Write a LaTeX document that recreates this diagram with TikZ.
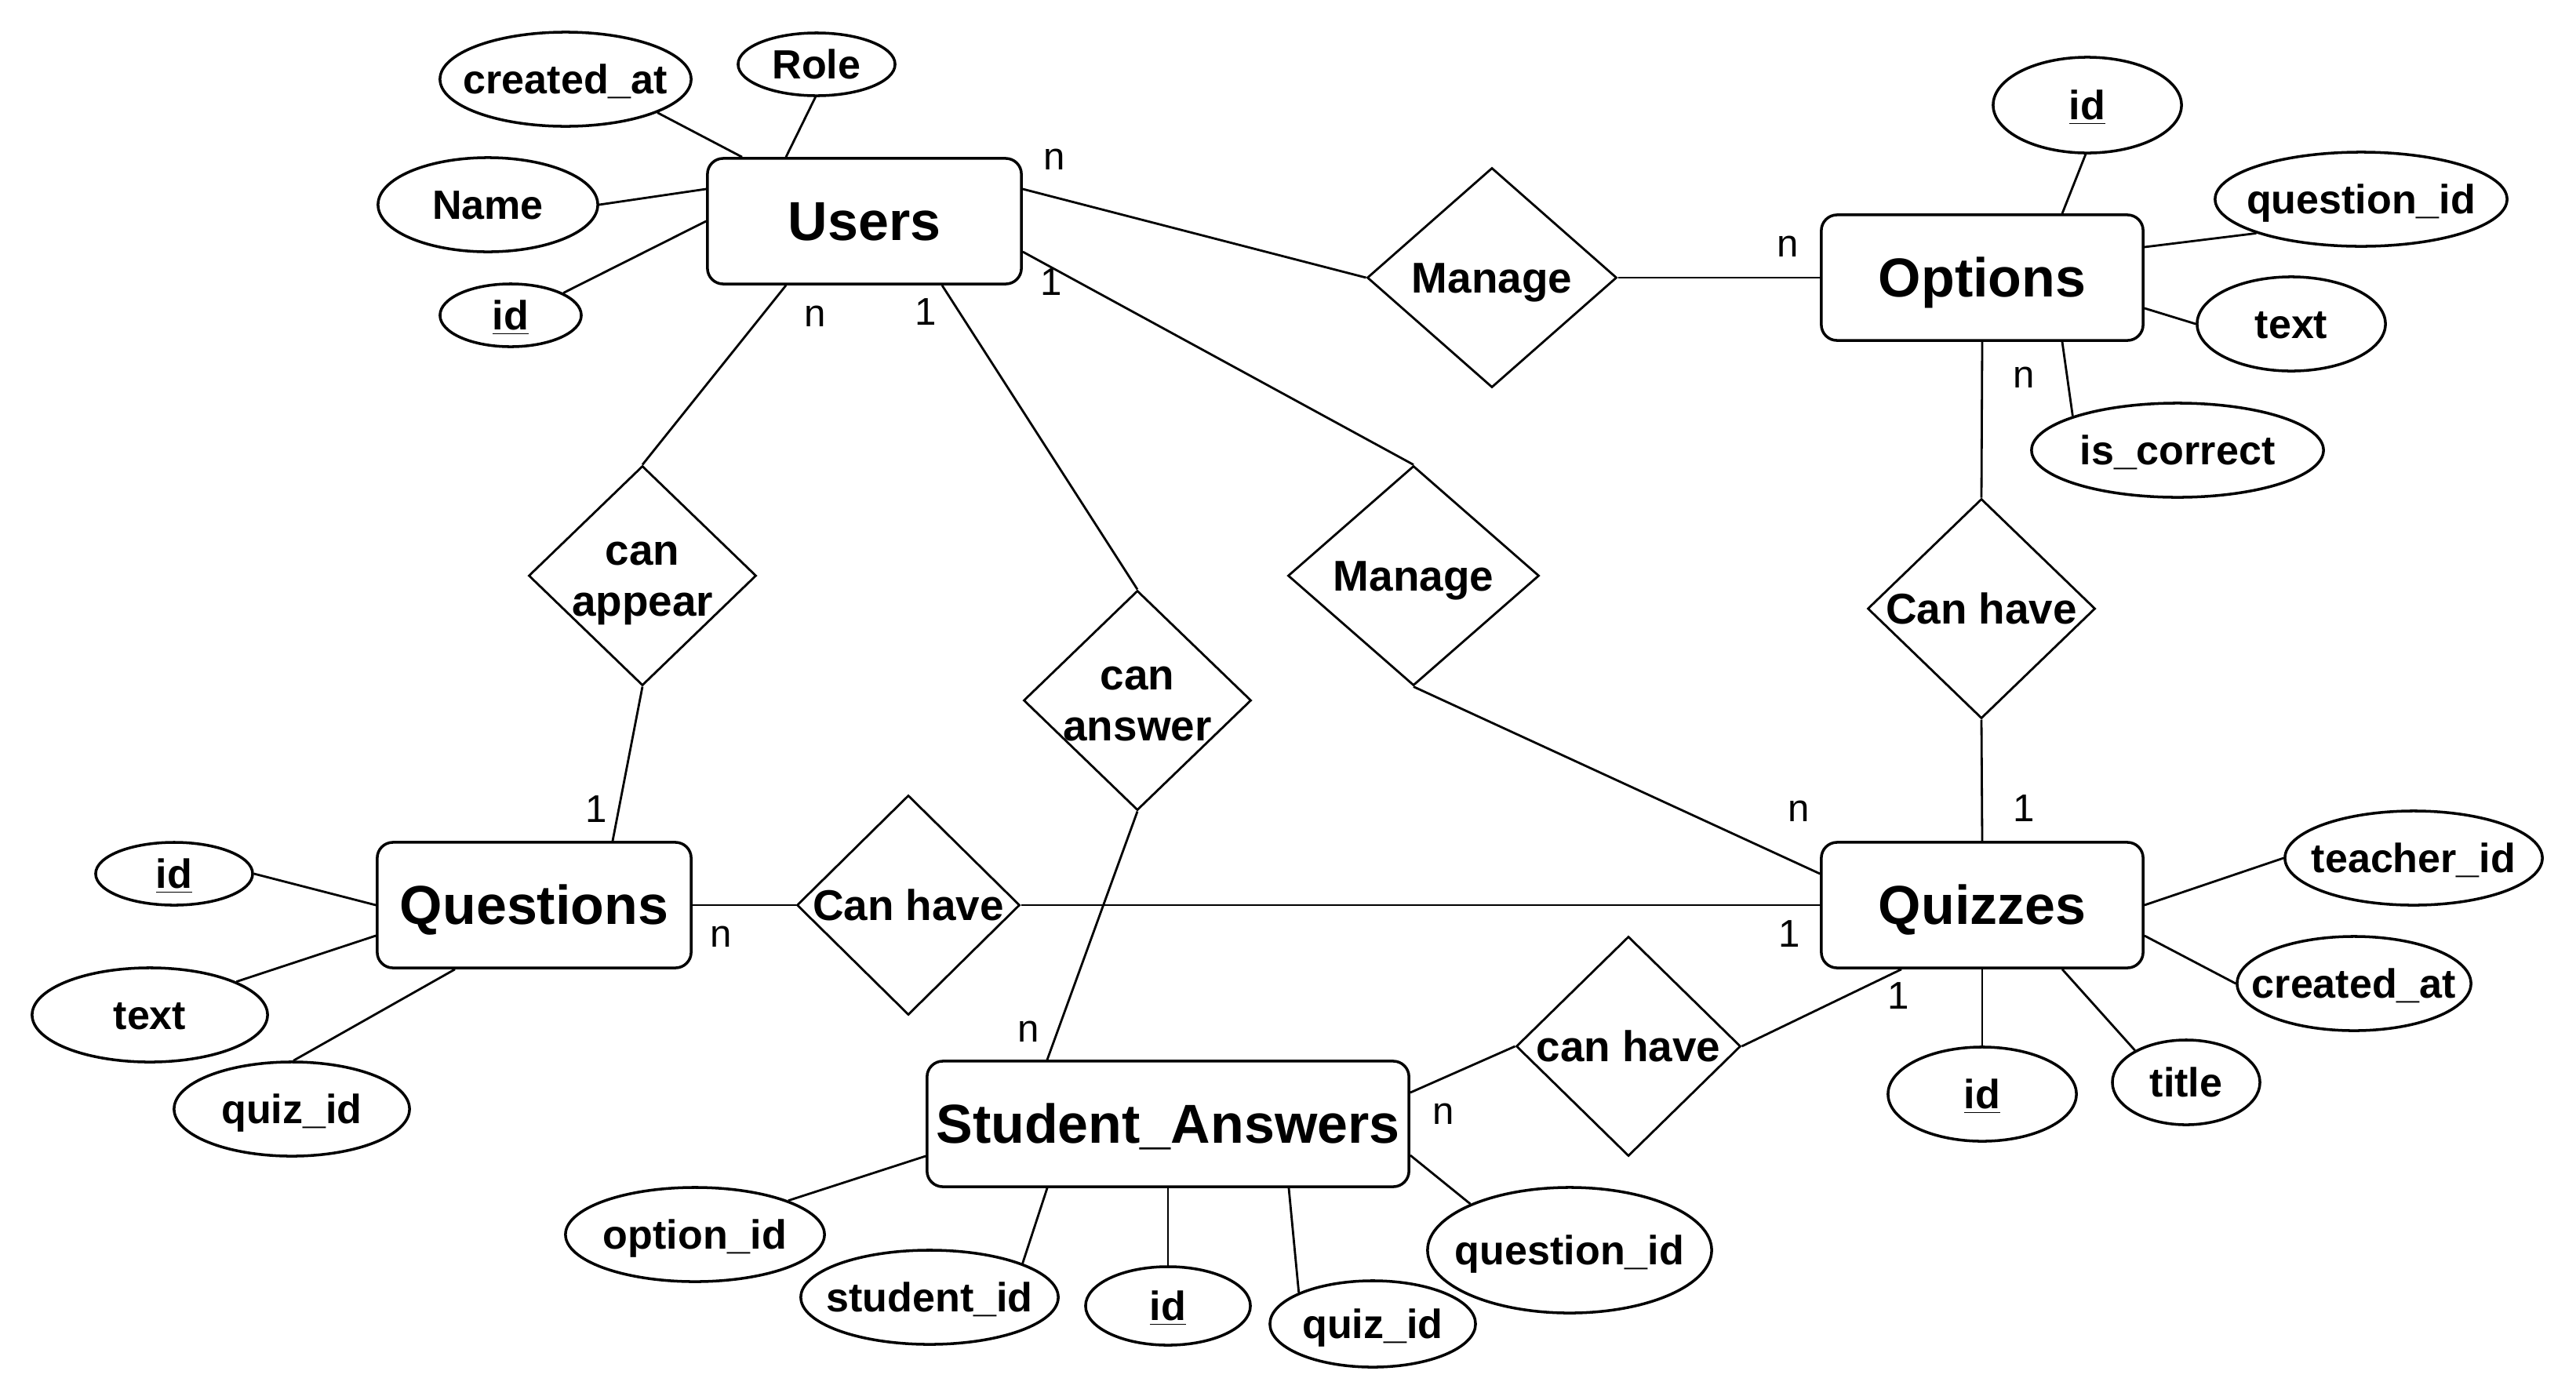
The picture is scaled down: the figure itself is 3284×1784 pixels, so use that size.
\documentclass[tikz,border=0pt]{standalone}
\usepackage{fontspec}
\setmainfont{Liberation Sans}
\usetikzlibrary{shapes.geometric,calc}
\newcommand\linestrut{\rule[-0.212em]{0pt}{1.117em}}
\begin{document}
\begin{tikzpicture}[x=0.01cm,y=-0.01cm,
  ent/.style={draw, rectangle, rounded corners=2mm, line width=1pt, inner sep=0pt,
    minimum height=1.6cm, execute at begin node=\linestrut,
    font=\fontsize{19.9}{24}\selectfont\bfseries},
  rel/.style={draw, diamond, line width=0.8pt, inner sep=0pt, minimum height=2.8cm},
  reltxt/.style={font=\fontsize{15.6}{18.72}\selectfont\bfseries, align=center, inner sep=0pt},
  attr/.style={draw, ellipse, line width=1pt, inner sep=0pt},
  atxt/.style={font=\fontsize{14.8}{18}\selectfont\bfseries, inner sep=0pt,
    execute at begin node=\linestrut},
  card/.style={font=\fontsize{14}{17}\selectfont, inner sep=0pt},
  conn/.style={line width=0.8pt}]
\fill[white] (0,0) rectangle (3284,1784);
\useasboundingbox (0,0) rectangle (3284,1784);

% entities
\node[ent, minimum width=4cm] (users) at (1102,282) {Users};
\node[ent, minimum width=4.1cm] (opt) at (2527,354) {Options};
\node[ent, minimum width=4cm] (ques) at (681,1154) {Questions};
\node[ent, minimum width=4.1cm] (quiz) at (2527,1154) {Quizzes};
\node[ent, minimum width=6.14cm] (sa) at (1489,1433) {Student\_Answers};

% relationships
\node[rel, minimum width=3.18cm, label={[reltxt]center:\linestrut Manage}] (man1) at (1902,354) {};
\node[rel, minimum width=3.2cm, label={[reltxt]center:\linestrut Manage}] (man2) at (1802,734) {};
\node[rel, minimum width=2.9cm, label={[reltxt]center:{\linestrut can\\\linestrut appear}}] (app) at (819,734) {};
\node[rel, minimum width=2.9cm, label={[reltxt]center:{\linestrut can\\\linestrut answer}}] (ans) at (1450,893) {};
\node[rel, minimum width=2.9cm, label={[reltxt]center:\linestrut Can have}] (chq) at (2526,776) {};
\node[rel, minimum width=2.84cm, label={[reltxt]center:\linestrut Can have}] (chm) at (1158,1154) {};
\node[rel, minimum width=2.86cm, label={[reltxt]center:\linestrut can have}] (chs) at (2076,1334) {};

% attributes
\node[attr, minimum width=3.2cm, minimum height=1.2cm, label={[atxt]center:created\_at}] (u-cat) at (721,101) {};
\node[attr, minimum width=2.0cm, minimum height=0.8cm, label={[atxt]center:Role}] (u-role) at (1041,82) {};
\node[attr, minimum width=2.8cm, minimum height=1.2cm, label={[atxt]center:Name}] (u-name) at (622,261) {};
\node[attr, minimum width=1.8cm, minimum height=0.8cm, label={[atxt]center:\underline{id}}] (u-id) at (651,402) {};

\node[attr, minimum width=2.4cm, minimum height=1.22cm, label={[atxt]center:\underline{id}}] (o-id) at (2661,134) {};
\node[attr, minimum width=3.72cm, minimum height=1.2cm, label={[atxt]center:question\_id}] (o-qid) at (3010,254) {};
\node[attr, minimum width=2.4cm, minimum height=1.2cm, label={[atxt]center:text}] (o-text) at (2921,413) {};
\node[attr, minimum width=3.72cm, minimum height=1.2cm, label={[atxt]center:is\_correct}] (o-corr) at (2776,574) {};

\node[attr, minimum width=2.0cm, minimum height=0.8cm, label={[atxt]center:\underline{id}}] (q-id) at (222,1114) {};
\node[attr, minimum width=3.0cm, minimum height=1.2cm, label={[atxt]center:text}] (q-text) at (191,1294) {};
\node[attr, minimum width=3.0cm, minimum height=1.2cm, label={[atxt]center:quiz\_id}] (q-quiz) at (372,1414) {};

\node[attr, minimum width=3.28cm, minimum height=1.2cm, label={[atxt]center:teacher\_id}] (z-teach) at (3077,1094) {};
\node[attr, minimum width=2.98cm, minimum height=1.2cm, label={[atxt]center:created\_at}] (z-cat) at (3001,1254) {};
\node[attr, minimum width=2.4cm, minimum height=1.2cm, label={[atxt]center:\underline{id}}] (z-id) at (2527,1395) {};
\node[attr, minimum width=1.88cm, minimum height=1.08cm, label={[atxt]center:title}] (z-title) at (2787,1380) {};

\node[attr, minimum width=3.3cm, minimum height=1.2cm, label={[atxt]center:option\_id}] (s-opt) at (886,1574) {};
\node[attr, minimum width=3.28cm, minimum height=1.2cm, label={[atxt]center:student\_id}] (s-stu) at (1185,1654) {};
\node[attr, minimum width=2.1cm, minimum height=1.0cm, label={[atxt]center:\underline{id}}] (s-id) at (1489,1665) {};
\node[attr, minimum width=2.62cm, minimum height=1.1cm, label={[atxt]center:quiz\_id}] (s-quiz) at (1750,1688) {};
\node[attr, minimum width=3.62cm, minimum height=1.6cm, label={[atxt]center:question\_id}] (s-qid) at (2001,1594) {};

% attribute connectors
\draw[conn] (u-cat.-20) -- ($(users.north)+(-156,0)$);
\draw[conn] (u-role.-92) -- ($(users.north)+(-100,0)$);
\draw[conn] (u-name.east) -- ($(users.west)+(0,-41)$);
\draw[conn] (u-id.23) -- (users.west);

\draw[conn] (o-id.-92) -- ($(opt.north)+(102,0)$);
\draw[conn] (o-qid.-162) -- ($(opt.east)+(0,-39)$);
\draw[conn] (o-text.west) -- ($(opt.east)+(0,39)$);
\draw[conn] (o-corr.162) -- ($(opt.south)+(102,0)$);

\draw[conn] (q-id.east) -- (ques.west);
\draw[conn] (q-text.21) -- ($(ques.west)+(0,39)$);
\draw[conn] (q-quiz.88) -- ($(ques.south)+(-101,0)$);

\draw[conn] (z-teach.west) -- (quiz.east);
\draw[conn] (z-cat.west) -- ($(quiz.east)+(0,39)$);
\draw[conn] (z-id.north) -- (quiz.south);
\draw[conn] (z-title.148) -- ($(quiz.south)+(102,0)$);

\draw[conn] (s-opt.20) -- ($(sa.west)+(0,41)$);
\draw[conn] (s-stu.20) -- ($(sa.south)+(-154,0)$);
\draw[conn] (s-id.north) -- (sa.south);
\draw[conn] (s-quiz.157) -- ($(sa.south)+(154,0)$);
\draw[conn] (s-qid.155) -- ($(sa.east)+(0,40)$);

% relationship connectors
\draw[conn] ($(users.east)+(0,-41)$) -- (man1.west);
\draw[conn] (man1.east) -- (opt.west);
\draw[conn] ($(users.east)+(0,39)$) -- (man2.north);
\draw[conn] (man2.south) -- ($(quiz.west)+(0,-40)$);
\draw[conn] ($(users.south)+(-100,0)$) -- (app.north);
\draw[conn] (app.south) -- ($(ques.north)+(100,0)$);
\draw[conn] ($(users.south)+(99,0)$) -- (ans.north);
\draw[conn] (ans.south) -- ($(sa.north)+(-154,0)$);
\draw[conn] (opt.south) -- (chq.north);
\draw[conn] (chq.south) -- (quiz.north);
\draw[conn] (ques.east) -- (chm.west);
\draw[conn] (chm.east) -- (quiz.west);
\draw[conn] ($(sa.east)+(0,-40)$) -- (chs.west);
\draw[conn] (chs.east) -- ($(quiz.south)+(-103,0)$);

% cardinalities
\node[card] (c1) at (1344,203) {n};
\node[card] (c2) at (1340,360) {1};
\node[card] (c3) at (1039,403) {n};
\node[card] (c4) at (1180,398) {1};
\node[card] (c5) at (2279,314) {n};
\node[card] (c6) at (2580,481) {n};
\node[card] (c7) at (760,1032) {1};
\node[card] (c8) at (919,1194) {n};
\node[card] (c9) at (1311,1315) {n};
\node[card] (c10) at (2293,1034) {n};
\node[card] (c11) at (2580,1031) {1};
\node[card] (c12) at (2281,1191) {1};
\node[card] (c13) at (2420,1270) {1};
\node[card] (c14) at (1840,1420) {n};
\end{tikzpicture}
\end{document}
